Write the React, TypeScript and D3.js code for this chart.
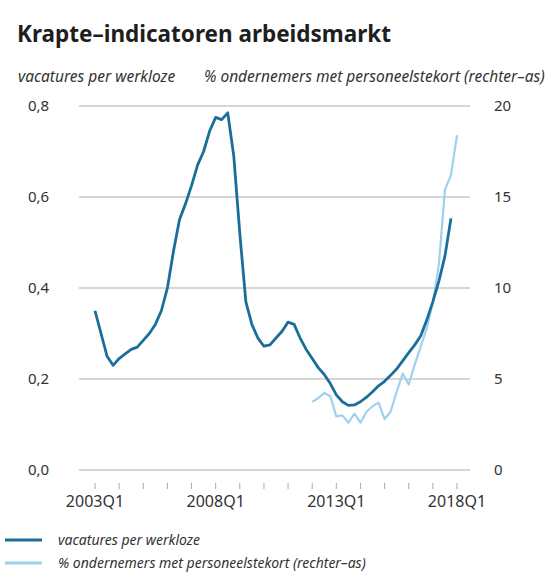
import React from 'react'
import * as d3 from 'd3';

// quarters 2003Q1 .. 2017Q4
const vacaturesPerWerkloze = [
  0.35, 0.30, 0.25, 0.23, 0.245, 0.255, 0.265, 0.27, 0.285, 0.30,
  0.32, 0.35, 0.40, 0.48, 0.55, 0.585, 0.625, 0.67, 0.70, 0.745,
  0.775, 0.77, 0.785, 0.69, 0.52, 0.37, 0.32, 0.29, 0.272, 0.275,
  0.29, 0.305, 0.325, 0.32, 0.29, 0.265, 0.245, 0.225, 0.21, 0.19,
  0.165, 0.15, 0.142, 0.143, 0.15, 0.16, 0.172, 0.185, 0.195, 0.208,
  0.222, 0.24, 0.258, 0.275, 0.295, 0.33, 0.37, 0.415, 0.47, 0.553,
];

// quarters 2012Q1 .. 2018Q1
const personeelstekortStart = 36;
const personeelstekort = [
  3.74, 3.95, 4.23, 4.05, 2.95, 3.0, 2.6, 3.1, 2.6, 3.2,
  3.5, 3.7, 2.8, 3.2, 4.3, 5.3, 4.7, 5.8, 6.8, 7.8,
  9.2, 11.3, 15.4, 16.2, 18.4,
];

const years = d3.range(2003, 2019);
const yearLabels = [2003, 2008, 2013, 2018];
const leftTicks = [0, 0.2, 0.4, 0.6, 0.8];
const rightTicks = [0, 5, 10, 15, 20];

const DARK = '#1a6f9a';
const LIGHT = '#9fd1ec';
const FONT = '"Noto Sans", "Open Sans", sans-serif';

const x = d3.scaleLinear().domain([0, 60]).range([95, 457]);
const yLeft = d3.scaleLinear().domain([0, 0.8]).range([470, 106]);
const yRight = d3.scaleLinear().domain([0, 20]).range([470, 106]);

const fmt = (v: number) => v.toFixed(1).replace('.', ',');

const App = () => {
  const darkLine = d3.line<number>()
    .x((d, i) => x(i))
    .y(d => yLeft(d));
  const lightLine = d3.line<number>()
    .x((d, i) => x(i + personeelstekortStart))
    .y(d => yRight(d));

  return (
    <svg width={560} height={574} style={{ position: 'absolute', left: 0, top: 0, fontFamily: FONT }}>
      <rect width={560} height={574} fill='#fff' />
      <text x={17} y={42} fontSize={22.5} fontWeight='bold' fill='#1e1e1e'>Krapte–indicatoren arbeidsmarkt</text>

      <text x={18} y={82} fontSize={15.5} fontStyle='italic' fill='#333'>vacatures per werkloze</text>
      <text x={204} y={82} fontSize={15.5} fontStyle='italic' fill='#333'>% ondernemers met personeelstekort (rechter–as)</text>

      <g>
        {leftTicks.map(t =>
          <line key={t} x1={79} x2={470} y1={yLeft(t)} y2={yLeft(t)} stroke='#c8c8c8' strokeWidth={1.5} />
        )}
        {leftTicks.map(t =>
          <text key={'l' + t} x={28} y={yLeft(t)} dy='0.35em' fontSize={15} fill='#333'>{fmt(t)}</text>
        )}
        {rightTicks.map(t =>
          <text key={'r' + t} x={494} y={yRight(t)} dy='0.35em' fontSize={15} fill='#333'>{t}</text>
        )}
      </g>

      <g>
        {years.map(yr =>
          <line key={yr} x1={x((yr - 2003) * 4)} x2={x((yr - 2003) * 4)} y1={483} y2={489} stroke='#aaa' strokeWidth={1} />
        )}
        {yearLabels.map(yr =>
          <text key={yr} x={x((yr - 2003) * 4)} y={507} textAnchor='middle' fontSize={16} fill='#333'>{yr}Q1</text>
        )}
      </g>

      <path d={lightLine(personeelstekort) || ''} fill='none' stroke={LIGHT} strokeWidth={2.2} strokeLinejoin='round' />
      <path d={darkLine(vacaturesPerWerkloze) || ''} fill='none' stroke={DARK} strokeWidth={2.8} strokeLinejoin='round' />

      <g>
        <line x1={5} x2={42} y1={540} y2={540} stroke={DARK} strokeWidth={3} />
        <text x={58} y={545} fontSize={14} fontStyle='italic' fill='#333'>vacatures per werkloze</text>
        <line x1={5} x2={42} y1={563} y2={563} stroke={LIGHT} strokeWidth={3} />
        <text x={58} y={568} fontSize={14} fontStyle='italic' fill='#333'>% ondernemers met personeelstekort (rechter–as)</text>
      </g>
    </svg>
  )
}

export default App
